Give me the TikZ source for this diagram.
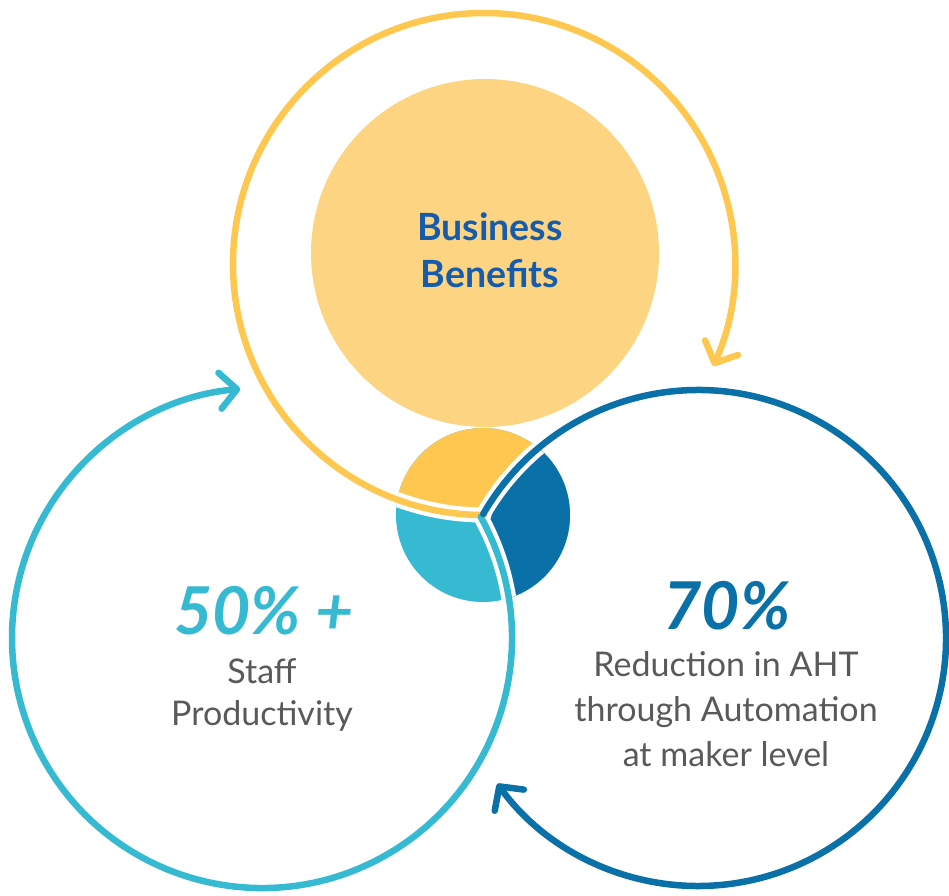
\documentclass[tikz,border=0pt]{standalone}
\usepackage{fontspec}
\setmainfont{Lato}
\usetikzlibrary{arrows.meta}

\definecolor{ringyellow}{HTML}{FEC850}
\definecolor{paleyellow}{HTML}{FDD582}
\definecolor{ringcyan}{HTML}{36BAD2}
\definecolor{ringblue}{HTML}{0A70A8}
\definecolor{titleblue}{HTML}{175CAA}
\definecolor{textgray}{HTML}{595959}

\begin{document}
\begin{tikzpicture}[x=1pt, y=-1pt,
      ring/.style={line width=6.5pt, line cap=round},
      gap/.style={white, line width=15pt, line cap=round},
      barb/.style={-{Straight Barb[length=17pt, width=36pt, round]}},
      title_text/.style={font=\fontsize{37.5}{47}\selectfont\bfseries, text=titleblue, align=center},
      big_num/.style={font=\fontsize{66}{70}\selectfont\bfseries\itshape},
      body_text/.style={font=\fontsize{34}{42}\selectfont, text=textgray, align=center}
  ]

  \useasboundingbox (0,0) rectangle (949,895);

  % Centres of the three rings and of the small pie
  \coordinate (yc) at (484,264);
  \coordinate (cc) at (262,638);
  \coordinate (bc) at (698,638);
  \coordinate (pc) at (483,515);

  % Pale disc behind the title
  \fill[paleyellow] (485,253) circle[radius=174];

  % The pie in the middle, cut into three by the rings
  \begin{scope}
    \clip (pc) circle[radius=87];
    \fill[ringcyan] (pc) circle[radius=90];
    \fill[ringyellow] (yc) circle[radius=251];
    \begin{scope}
      \clip (bc) circle[radius=248];
      \fill[ringblue, even odd rule] (380,400) rectangle (600,620) (cc) circle[radius=250];
    \end{scope}
    % white gaps along the rings
    \draw[gap] (yc) ++(90:251) arc[start angle=90, end angle=150, radius=251];
    \draw[gap] (cc) ++(-29:250) arc[start angle=-29, end angle=20, radius=250];
    \draw[gap] (bc) ++(-150:248) arc[start angle=-150, end angle=-110, radius=248];
  \end{scope}

  % Rings with their arrows
  \draw[ring, ringyellow, barb] (yc) ++(90:251) arc[start angle=90, end angle=384, radius=251];
  \draw[ring, ringcyan, barb] (cc) ++(-29:250) arc[start angle=-29, end angle=265, radius=250];
  \draw[ring, ringblue, barb] (bc) ++(-150:248) arc[start angle=-150, end angle=144, radius=248];

  % Labels
  \node[title_text] (title) at (490,250) {Business\\Benefits};

  \node[big_num, text=ringcyan] (staffnum) at (264,611) {50\% +};
  \node[body_text] (staff) at (262,695) {Staff\\Productivity};

  \node[big_num, text=ringblue] (ahtnum) at (727,606) {70\%};
  \node[body_text, font=\fontsize{34}{45}\selectfont] (aht) at (726,709) {Reduction in AHT\\through Automation\\at maker level};

\end{tikzpicture}
\end{document}
